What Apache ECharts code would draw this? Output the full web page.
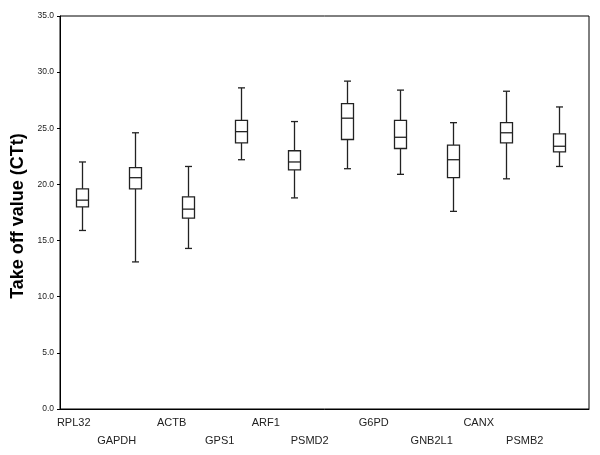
<!DOCTYPE html>
<html>
<head>
<meta charset="utf-8">
<script src="https://cdn.jsdelivr.net/npm/echarts@6/dist/echarts.min.js"></script>
<style>html,body{margin:0;padding:0;background:#fff;}#c{width:600px;height:455px;}</style>
</head>
<body>
<div id="c"></div>
<script>
const categories = ['RPL32','GAPDH','ACTB','GPS1','ARF1','PSMD2','G6PD','GNB2L1','CANX','PSMB2'];
const whiskerLow  = [15.9, 13.1, 14.3, 22.2, 18.8, 21.4, 20.9, 17.6, 20.5, 21.6];
const q1          = [18.0, 19.6, 17.0, 23.7, 21.3, 24.0, 23.2, 20.6, 23.7, 22.9];
const median      = [18.6, 20.6, 17.8, 24.7, 22.0, 25.9, 24.2, 22.2, 24.6, 23.4];
const q3          = [19.6, 21.5, 18.9, 25.7, 23.0, 27.2, 25.7, 23.5, 25.5, 24.5];
const whiskerHigh = [22.0, 24.6, 21.6, 28.6, 25.6, 29.2, 28.4, 25.5, 28.3, 26.9];
const yTicks = [0, 5, 10, 15, 20, 25, 30, 35];

// label nudges (styling only)
const labelShift = [8, 18, 16, 21, 28, 37, 26, 21, 27, 34];

const rich = {};
categories.forEach((c, i) => {
  rich['l' + i] = {
    fontSize: 11, color: '#222', fontFamily: 'Liberation Sans, Arial, sans-serif',
    padding: [i % 2 ? 18 : 0, 2 * labelShift[i], 0, 0]
  };
});

const seriesData = categories.map((c, i) => [i, whiskerLow[i], q1[i], median[i], q3[i], whiskerHigh[i]]);

const chart = echarts.init(document.getElementById('c'), null, {renderer: 'canvas'});
const lineStyle = {stroke: '#222', lineWidth: 1.3};
chart.setOption({
  animation: false,
  backgroundColor: '#fff',
  grid: [
    {left: 60, right: 11, top: 16, bottom: 46, show: true, borderColor: '#000', borderWidth: 1, backgroundColor: 'transparent'},
    {left: 55.2, width: 530, top: 16, bottom: 46}
  ],
  xAxis: [
    {type: 'category', gridIndex: 0, data: categories, axisLine: {lineStyle: {color: '#000'}},
     axisTick: {show: false}, axisLabel: {show: false}},
    {type: 'category', gridIndex: 1, data: categories, boundaryGap: true,
     axisLine: {show: false}, axisTick: {show: false},
     axisLabel: {interval: 0, margin: 8, formatter: (v, i) => '{l' + i + '|' + v + '}', rich: rich}}
  ],
  yAxis: [
    {type: 'value', gridIndex: 0, min: yTicks[0], max: yTicks[yTicks.length - 1], interval: 5,
     axisLine: {show: true, lineStyle: {color: '#000'}},
     axisTick: {show: true, length: 3, lineStyle: {color: '#000'}},
     splitLine: {show: false},
     axisLabel: {margin: 6, fontSize: 8.5, color: '#222', fontFamily: 'Liberation Sans, Arial, sans-serif',
                 formatter: v => v.toFixed(1)},
     name: 'Take off value (CTt)', nameLocation: 'middle', nameGap: 31,
     nameTextStyle: {fontSize: 18, fontWeight: 'bold', color: '#000', fontFamily: 'Liberation Sans, Arial, sans-serif',
                     padding: [0, 7, 0, 0]}},
    {type: 'value', gridIndex: 1, min: yTicks[0], max: yTicks[yTicks.length - 1], show: false}
  ],
  series: [{
    type: 'custom',
    xAxisIndex: 1, yAxisIndex: 1,
    data: seriesData,
    encode: {x: 0, y: [1, 2, 3, 4, 5]},
    renderItem: function (params, api) {
      const i = api.value(0);
      const pLow = api.coord([i, api.value(1)]);
      const pQ1 = api.coord([i, api.value(2)]);
      const pMed = api.coord([i, api.value(3)]);
      const pQ3 = api.coord([i, api.value(4)]);
      const pHigh = api.coord([i, api.value(5)]);
      const x = Math.round(pMed[0]) + 0.5;
      const bw = 12, cw = 7;
      return {
        type: 'group',
        children: [
          {type: 'line', shape: {x1: x, y1: pLow[1], x2: x, y2: pQ1[1]}, style: lineStyle},
          {type: 'line', shape: {x1: x, y1: pQ3[1], x2: x, y2: pHigh[1]}, style: lineStyle},
          {type: 'line', shape: {x1: x - cw / 2, y1: pLow[1], x2: x + cw / 2, y2: pLow[1]}, style: lineStyle},
          {type: 'line', shape: {x1: x - cw / 2, y1: pHigh[1], x2: x + cw / 2, y2: pHigh[1]}, style: lineStyle},
          {type: 'rect', shape: {x: x - bw / 2, y: pQ3[1], width: bw, height: pQ1[1] - pQ3[1]},
           style: {fill: '#fff', stroke: '#222', lineWidth: 1.3}},
          {type: 'line', shape: {x1: x - bw / 2, y1: pMed[1], x2: x + bw / 2, y2: pMed[1]}, style: lineStyle}
        ]
      };
    }
  }]
});
</script>
</body>
</html>
